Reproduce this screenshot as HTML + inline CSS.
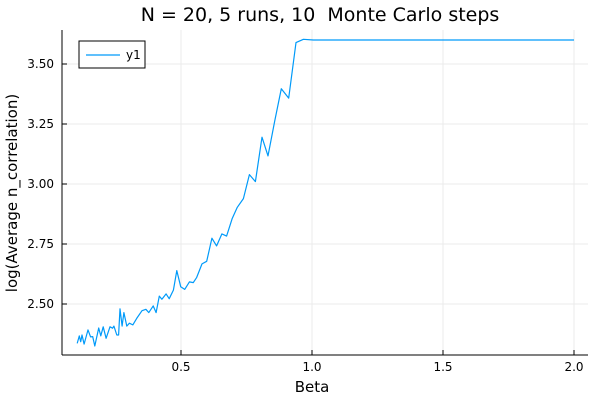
<!DOCTYPE html>
<html><head><meta charset="utf-8"><style>
html,body{margin:0;padding:0;background:#fff;}
svg{display:block;font-family:"DejaVu Sans","Liberation Sans",sans-serif;}
</style></head><body>
<svg id="chart" width="600" height="400" viewBox="0 0 600 400">
<text x="320" y="21" text-anchor="middle" font-size="19" fill="#000" style="white-space:pre">N = 20, 5 runs, 10  Monte Carlo steps</text>
<text x="312" y="392" text-anchor="middle" font-size="15" fill="#000">Beta</text>
<text transform="translate(17,193) rotate(-90)" text-anchor="middle" font-size="15" fill="#000">log(Average n_correlation)</text>
<g id="grid"></g><g id="axes"></g><g id="series"></g>
<g>
<rect x="79" y="41" width="66" height="27" fill="#fff" stroke="#000" stroke-width="1"/>
<line x1="86" y1="55" x2="120" y2="55" stroke="#009af9" stroke-width="1.2"/>
<text x="126" y="59" font-size="12" fill="#000">y1</text>
</g>
</svg>
<script>
const betas=[0.104,0.112,0.117,0.122,0.130,0.145,0.155,0.163,0.171,0.186,0.194,0.203,0.214,0.229,0.239,0.244,0.255,0.262,0.267,0.275,0.282,0.293,0.303,0.316,0.331,0.351,0.366,0.377,0.394,0.405,0.417,0.427,0.443,0.455,0.471,0.484,0.499,0.514,0.532,0.547,0.560,0.580,0.598,0.618,0.636,0.656,0.674,0.695,0.715,0.738,0.761,0.784,0.809,0.832,0.858,0.883,0.911,0.939,0.967,1.005,1.069,2.0];
const values=[2.336,2.367,2.343,2.371,2.333,2.392,2.363,2.364,2.325,2.400,2.367,2.405,2.357,2.405,2.399,2.408,2.371,2.371,2.480,2.408,2.464,2.408,2.420,2.413,2.440,2.472,2.478,2.464,2.492,2.464,2.533,2.520,2.542,2.522,2.558,2.639,2.572,2.561,2.592,2.589,2.611,2.667,2.678,2.774,2.742,2.792,2.783,2.855,2.903,2.939,3.039,3.010,3.195,3.117,3.264,3.397,3.358,3.589,3.603,3.600,3.600,3.600];
const xTicks=[0.5,1.0,1.5,2.0];
const xTickLabels=["0.5","1.0","1.5","2.0"];
const yTicks=[2.5,2.75,3.0,3.25,3.5];
const yTickLabels=["2.50","2.75","3.00","3.25","3.50"];
const NS="http://www.w3.org/2000/svg";
const L=62,R=588,T=30,B=355;
function sx(b){return 181+(b-0.5)*262;}
function sy(v){return 304-(v-2.5)*240;}
function mk(tag,attrs,parent){const e=document.createElementNS(NS,tag);for(const k in attrs)e.setAttribute(k,attrs[k]);parent.appendChild(e);return e;}
const grid=document.getElementById('grid'),axes=document.getElementById('axes'),ser=document.getElementById('series');
xTicks.forEach((t,i)=>{
 const g=mk('line',{x1:sx(t),x2:sx(t),y1:T,y2:B,stroke:'#ebebeb','stroke-width':1},grid);
 
 
 const tk=mk('line',{x1:sx(t),x2:sx(t),y1:B,y2:B-5,stroke:'#000','stroke-width':1},axes);
 
 
 const tx=mk('text',{x:sx(t),y:B+16,'text-anchor':'middle','font-size':12,fill:'#000'},axes);
 tx.textContent=xTickLabels[i];
 
 
});
yTicks.forEach((t,i)=>{
 const g=mk('line',{x1:L,x2:R,y1:sy(t),y2:sy(t),stroke:'#ebebeb','stroke-width':1},grid);
 
 
 const tk=mk('line',{x1:L,x2:L+5,y1:sy(t),y2:sy(t),stroke:'#000','stroke-width':1},axes);
 
 
 const tx=mk('text',{x:L-8,y:sy(t)+4,'text-anchor':'end','font-size':12,fill:'#000'},axes);
 tx.textContent=yTickLabels[i];
 
 
});
const xa=mk('line',{x1:L,x2:R,y1:B,y2:B,stroke:'#000','stroke-width':1},axes);


const ya=mk('line',{x1:L,x2:L,y1:T,y2:B,stroke:'#000','stroke-width':1},axes);


const pts=betas.map((b,i)=>sx(b).toFixed(1)+','+sy(values[i]).toFixed(1)).join(' ');
const pl=mk('polyline',{points:pts,fill:'none',stroke:'#009af9','stroke-width':1.2,'stroke-linejoin':'round'},ser);


</script>
</body></html>
